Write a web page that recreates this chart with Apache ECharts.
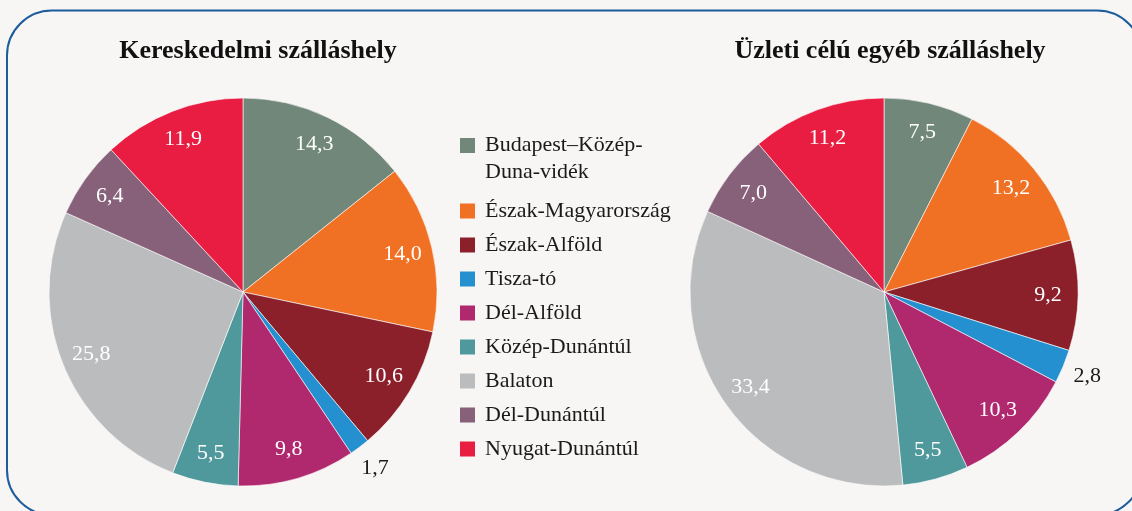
<!DOCTYPE html>
<html>
<head>
<meta charset="utf-8">
<script src="https://cdn.jsdelivr.net/npm/echarts@6/dist/echarts.min.js"></script>
<style>
  html, body { margin: 0; padding: 0; background: #f7f6f4; }
  #chart { width: 1132px; height: 511px; }
</style>
</head>
<body>
<div id="chart"></div>
<script>
const regions = [
  'Budapest–Közép-Duna-vidék',
  'Észak-Magyarország',
  'Észak-Alföld',
  'Tisza-tó',
  'Dél-Alföld',
  'Közép-Dunántúl',
  'Balaton',
  'Dél-Dunántúl',
  'Nyugat-Dunántúl'
];
const commercialValues = [14.3, 14.0, 10.6, 1.7, 9.8, 5.5, 25.8, 6.4, 11.9];
const businessValues = [7.5, 13.2, 9.2, 2.8, 10.3, 5.5, 33.4, 7.0, 11.2];
const regionColors = ['#71877a', '#f07024', '#8b202b', '#2590cf', '#b0286e', '#4f999d', '#bbbcbe', '#87617a', '#e91d41'];

const FONT = '"Liberation Serif", "DejaVu Serif", serif';
const fmt = v => v.toFixed(1).replace('.', ',');
const isSmall = v => v < 3;

// transparent ring, only used to place value labels at its middle radius
function labelRing(values, cx, radius, small) {
  return {
    type: 'pie',
    center: [cx, 292],
    radius: radius,
    startAngle: 90,
    clockwise: true,
    silent: true,
    legendHoverLink: false,
    itemStyle: { color: 'rgba(0,0,0,0)', borderWidth: 0 },
    label: {
      show: true,
      position: 'inside',
      color: small ? '#1a1a1a' : '#ffffff',
      fontFamily: FONT,
      fontSize: 22,
      formatter: p => fmt(p.value)
    },
    labelLine: { show: false },
    data: values.map((v, i) => ({
      name: regions[i],
      value: v,
      label: { show: isSmall(v) === small }
    }))
  };
}

function pieSeries(values, cx) {
  return [
    {
      type: 'pie',
      center: [cx, 292],
      radius: [0, 194],
      startAngle: 90,
      clockwise: true,
      silent: true,
      label: { show: false },
      labelLine: { show: false },
      itemStyle: { borderColor: '#ffffff', borderWidth: 0.6 },
      data: values.map((v, i) => ({ name: regions[i], value: v }))
    },
    labelRing(values, cx, [128, 194], false),
    labelRing(values, cx, [200, 234], true)
  ];
}

const chart = echarts.init(document.getElementById('chart'));

const legendText = { fontFamily: FONT, fontSize: 22, color: '#1a1a1a' };

chart.setOption({
  backgroundColor: '#f7f6f4',
  animation: false,
  color: regionColors,
  title: [
    {
      text: 'Kereskedelmi szálláshely',
      left: 253, top: 33, textAlign: 'center',
      textStyle: { fontFamily: FONT, fontSize: 26, fontWeight: 'bold', color: '#111111' }
    },
    {
      text: 'Üzleti célú egyéb szálláshely',
      left: 885, top: 33, textAlign: 'center',
      textStyle: { fontFamily: FONT, fontSize: 26, fontWeight: 'bold', color: '#111111' }
    }
  ],
  legend: [
    {
      // two-line entry: tall icon with the square on top so it lines up with the first line
      data: [regions[0]],
      orient: 'vertical',
      left: 460, top: 132,
      padding: 0,
      icon: 'path://M0,0L15,0L15,15L0,15Z M0,41.9L0.01,42',
      itemWidth: 15, itemHeight: 42,
      itemStyle: { borderWidth: 0 },
      selectedMode: false,
      formatter: () => 'Budapest–Közép-\nDuna-vidék',
      textStyle: Object.assign({ lineHeight: 27, padding: [0, 0, 0, 5] }, legendText)
    },
    {
      data: regions.slice(1),
      orient: 'vertical',
      left: 460, top: 200,
      padding: 0,
      icon: 'rect',
      itemWidth: 15, itemHeight: 15,
      itemGap: 12,
      itemStyle: { borderWidth: 0 },
      selectedMode: false,
      textStyle: Object.assign({ lineHeight: 21, padding: [0, 0, 0, 5] }, legendText)
    }
  ],
  graphic: [
    {
      type: 'rect',
      z: -1,
      silent: true,
      shape: { x: 7, y: 10.5, width: 1135, height: 504.5, r: 45 },
      style: { fill: '#f7f6f4', stroke: '#1c5c9c', lineWidth: 2 }
    }
  ],
  series: [...pieSeries(commercialValues, 243), ...pieSeries(businessValues, 884)]
});
</script>
</body>
</html>
